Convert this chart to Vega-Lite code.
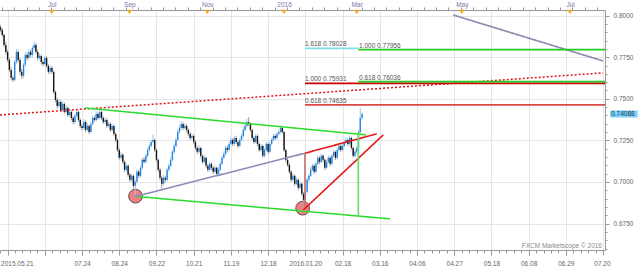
{
"$schema":"https://vega.github.io/schema/vega-lite/v6.json",
"width":605,"height":240,"autosize":"none",
"padding":{"left":0,"top":10,"right":35,"bottom":19},
"background":"white",
"view":{"stroke":null},
"config":{"axis":{"labelFont":"Liberation Sans","labelFontSize":6.5,"domainColor":"#999999","tickColor":"#999999","gridColor":"#e6e6e6","labelOverlap":false,"labelBound":false}},
"resolve":{"axis":{"x":"independent","y":"independent"}},
"datasets":{
"k":[
{"t":-4,"o":0.7930,"h":0.7945,"l":0.7900,"c":0.7914},
{"t":-3,"o":0.7914,"h":0.7925,"l":0.7870,"c":0.7884},
{"t":-2,"o":0.7884,"h":0.7892,"l":0.7810,"c":0.7824},
{"t":-1,"o":0.7824,"h":0.7840,"l":0.7765,"c":0.7782},
{"t":0,"o":0.7782,"h":0.7795,"l":0.7720,"c":0.7734},
{"t":1,"o":0.7734,"h":0.7745,"l":0.7660,"c":0.7674},
{"t":2,"o":0.7674,"h":0.7690,"l":0.7610,"c":0.7626},
{"t":3,"o":0.7626,"h":0.7640,"l":0.7600,"c":0.7614},
{"t":4,"o":0.7614,"h":0.7735,"l":0.7605,"c":0.7722},
{"t":5,"o":0.7722,"h":0.7800,"l":0.7710,"c":0.7782},
{"t":6,"o":0.7782,"h":0.7795,"l":0.7720,"c":0.7734},
{"t":7,"o":0.7734,"h":0.7748,"l":0.7645,"c":0.7662},
{"t":8,"o":0.7662,"h":0.7680,"l":0.7620,"c":0.7638},
{"t":9,"o":0.7638,"h":0.7718,"l":0.7625,"c":0.7704},
{"t":10,"o":0.7704,"h":0.7780,"l":0.7695,"c":0.7764},
{"t":11,"o":0.7764,"h":0.7778,"l":0.7730,"c":0.7746},
{"t":12,"o":0.7746,"h":0.7798,"l":0.7735,"c":0.7782},
{"t":13,"o":0.7782,"h":0.7795,"l":0.7750,"c":0.7764},
{"t":14,"o":0.7764,"h":0.7818,"l":0.7752,"c":0.7806},
{"t":15,"o":0.7806,"h":0.7845,"l":0.7795,"c":0.7824},
{"t":16,"o":0.7824,"h":0.7835,"l":0.7770,"c":0.7782},
{"t":17,"o":0.7782,"h":0.7795,"l":0.7730,"c":0.7746},
{"t":18,"o":0.7746,"h":0.7772,"l":0.7735,"c":0.7758},
{"t":19,"o":0.7758,"h":0.7768,"l":0.7705,"c":0.7722},
{"t":20,"o":0.7722,"h":0.7735,"l":0.7695,"c":0.7710},
{"t":21,"o":0.7710,"h":0.7760,"l":0.7700,"c":0.7746},
{"t":22,"o":0.7746,"h":0.7755,"l":0.7685,"c":0.7698},
{"t":23,"o":0.7698,"h":0.7710,"l":0.7648,"c":0.7662},
{"t":24,"o":0.7662,"h":0.7700,"l":0.7650,"c":0.7686},
{"t":25,"o":0.7686,"h":0.7698,"l":0.7650,"c":0.7662},
{"t":26,"o":0.7662,"h":0.7668,"l":0.7530,"c":0.7541},
{"t":27,"o":0.7541,"h":0.7550,"l":0.7478,"c":0.7493},
{"t":28,"o":0.7493,"h":0.7505,"l":0.7440,"c":0.7457},
{"t":29,"o":0.7457,"h":0.7498,"l":0.7448,"c":0.7481},
{"t":30,"o":0.7481,"h":0.7490,"l":0.7420,"c":0.7433},
{"t":31,"o":0.7433,"h":0.7485,"l":0.7425,"c":0.7469},
{"t":32,"o":0.7469,"h":0.7478,"l":0.7410,"c":0.7421},
{"t":33,"o":0.7421,"h":0.7460,"l":0.7412,"c":0.7445},
{"t":34,"o":0.7445,"h":0.7455,"l":0.7390,"c":0.7403},
{"t":35,"o":0.7403,"h":0.7440,"l":0.7395,"c":0.7421},
{"t":36,"o":0.7421,"h":0.7430,"l":0.7370,"c":0.7385},
{"t":37,"o":0.7385,"h":0.7395,"l":0.7345,"c":0.7361},
{"t":38,"o":0.7361,"h":0.7412,"l":0.7350,"c":0.7397},
{"t":39,"o":0.7397,"h":0.7438,"l":0.7388,"c":0.7421},
{"t":40,"o":0.7421,"h":0.7430,"l":0.7360,"c":0.7373},
{"t":41,"o":0.7373,"h":0.7382,"l":0.7322,"c":0.7337},
{"t":42,"o":0.7337,"h":0.7350,"l":0.7310,"c":0.7325},
{"t":43,"o":0.7325,"h":0.7378,"l":0.7315,"c":0.7361},
{"t":44,"o":0.7361,"h":0.7370,"l":0.7300,"c":0.7313},
{"t":45,"o":0.7313,"h":0.7352,"l":0.7305,"c":0.7337},
{"t":46,"o":0.7337,"h":0.7345,"l":0.7288,"c":0.7301},
{"t":47,"o":0.7301,"h":0.7362,"l":0.7295,"c":0.7349},
{"t":48,"o":0.7349,"h":0.7400,"l":0.7340,"c":0.7385},
{"t":49,"o":0.7385,"h":0.7395,"l":0.7360,"c":0.7373},
{"t":50,"o":0.7373,"h":0.7425,"l":0.7365,"c":0.7409},
{"t":51,"o":0.7409,"h":0.7420,"l":0.7372,"c":0.7385},
{"t":52,"o":0.7385,"h":0.7440,"l":0.7378,"c":0.7421},
{"t":53,"o":0.7421,"h":0.7430,"l":0.7372,"c":0.7385},
{"t":54,"o":0.7385,"h":0.7395,"l":0.7348,"c":0.7361},
{"t":55,"o":0.7361,"h":0.7388,"l":0.7350,"c":0.7373},
{"t":56,"o":0.7373,"h":0.7382,"l":0.7325,"c":0.7337},
{"t":57,"o":0.7337,"h":0.7362,"l":0.7328,"c":0.7349},
{"t":58,"o":0.7349,"h":0.7358,"l":0.7300,"c":0.7313},
{"t":59,"o":0.7313,"h":0.7350,"l":0.7305,"c":0.7337},
{"t":60,"o":0.7337,"h":0.7345,"l":0.7275,"c":0.7289},
{"t":61,"o":0.7289,"h":0.7298,"l":0.7240,"c":0.7253},
{"t":62,"o":0.7253,"h":0.7260,"l":0.7180,"c":0.7193},
{"t":63,"o":0.7193,"h":0.7205,"l":0.7130,"c":0.7145},
{"t":64,"o":0.7145,"h":0.7180,"l":0.7135,"c":0.7163},
{"t":65,"o":0.7163,"h":0.7172,"l":0.7108,"c":0.7121},
{"t":66,"o":0.7121,"h":0.7130,"l":0.7060,"c":0.7073},
{"t":67,"o":0.7073,"h":0.7112,"l":0.7062,"c":0.7097},
{"t":68,"o":0.7097,"h":0.7105,"l":0.7030,"c":0.7043},
{"t":69,"o":0.7043,"h":0.7055,"l":0.7000,"c":0.7013},
{"t":70,"o":0.7013,"h":0.7050,"l":0.7002,"c":0.7037},
{"t":71,"o":0.7037,"h":0.7045,"l":0.6960,"c":0.6977},
{"t":72,"o":0.6977,"h":0.7015,"l":0.6916,"c":0.7001},
{"t":73,"o":0.7001,"h":0.7075,"l":0.6990,"c":0.7061},
{"t":74,"o":0.7061,"h":0.7072,"l":0.7025,"c":0.7037},
{"t":75,"o":0.7037,"h":0.7098,"l":0.7028,"c":0.7085},
{"t":76,"o":0.7085,"h":0.7145,"l":0.7075,"c":0.7133},
{"t":77,"o":0.7133,"h":0.7148,"l":0.7110,"c":0.7121},
{"t":78,"o":0.7121,"h":0.7170,"l":0.7112,"c":0.7157},
{"t":79,"o":0.7157,"h":0.7208,"l":0.7148,"c":0.7193},
{"t":80,"o":0.7193,"h":0.7230,"l":0.7185,"c":0.7217},
{"t":81,"o":0.7217,"h":0.7255,"l":0.7208,"c":0.7241},
{"t":82,"o":0.7241,"h":0.7285,"l":0.7232,"c":0.7253},
{"t":83,"o":0.7253,"h":0.7262,"l":0.7180,"c":0.7193},
{"t":84,"o":0.7193,"h":0.7200,"l":0.7120,"c":0.7133},
{"t":85,"o":0.7133,"h":0.7140,"l":0.7060,"c":0.7073},
{"t":86,"o":0.7073,"h":0.7085,"l":0.7010,"c":0.7025},
{"t":87,"o":0.7025,"h":0.7035,"l":0.6960,"c":0.6989},
{"t":88,"o":0.6989,"h":0.7040,"l":0.6978,"c":0.7025},
{"t":89,"o":0.7025,"h":0.7038,"l":0.6998,"c":0.7013},
{"t":90,"o":0.7013,"h":0.7085,"l":0.7005,"c":0.7073},
{"t":91,"o":0.7073,"h":0.7112,"l":0.7062,"c":0.7097},
{"t":92,"o":0.7097,"h":0.7148,"l":0.7088,"c":0.7133},
{"t":93,"o":0.7133,"h":0.7195,"l":0.7125,"c":0.7181},
{"t":94,"o":0.7181,"h":0.7230,"l":0.7170,"c":0.7217},
{"t":95,"o":0.7217,"h":0.7268,"l":0.7208,"c":0.7253},
{"t":96,"o":0.7253,"h":0.7315,"l":0.7245,"c":0.7301},
{"t":97,"o":0.7301,"h":0.7342,"l":0.7290,"c":0.7325},
{"t":98,"o":0.7325,"h":0.7365,"l":0.7315,"c":0.7349},
{"t":99,"o":0.7349,"h":0.7360,"l":0.7312,"c":0.7325},
{"t":100,"o":0.7325,"h":0.7352,"l":0.7315,"c":0.7337},
{"t":101,"o":0.7337,"h":0.7348,"l":0.7300,"c":0.7313},
{"t":102,"o":0.7313,"h":0.7322,"l":0.7275,"c":0.7289},
{"t":103,"o":0.7289,"h":0.7300,"l":0.7252,"c":0.7265},
{"t":104,"o":0.7265,"h":0.7292,"l":0.7255,"c":0.7277},
{"t":105,"o":0.7277,"h":0.7285,"l":0.7228,"c":0.7241},
{"t":106,"o":0.7241,"h":0.7250,"l":0.7192,"c":0.7205},
{"t":107,"o":0.7205,"h":0.7215,"l":0.7168,"c":0.7181},
{"t":108,"o":0.7181,"h":0.7220,"l":0.7172,"c":0.7205},
{"t":109,"o":0.7205,"h":0.7212,"l":0.7145,"c":0.7157},
{"t":110,"o":0.7157,"h":0.7165,"l":0.7108,"c":0.7121},
{"t":111,"o":0.7121,"h":0.7160,"l":0.7112,"c":0.7145},
{"t":112,"o":0.7145,"h":0.7152,"l":0.7085,"c":0.7097},
{"t":113,"o":0.7097,"h":0.7105,"l":0.7060,"c":0.7073},
{"t":114,"o":0.7073,"h":0.7122,"l":0.7065,"c":0.7109},
{"t":115,"o":0.7109,"h":0.7118,"l":0.7072,"c":0.7085},
{"t":116,"o":0.7085,"h":0.7095,"l":0.7048,"c":0.7061},
{"t":117,"o":0.7061,"h":0.7098,"l":0.7052,"c":0.7085},
{"t":118,"o":0.7085,"h":0.7092,"l":0.7035,"c":0.7049},
{"t":119,"o":0.7049,"h":0.7088,"l":0.7040,"c":0.7073},
{"t":120,"o":0.7073,"h":0.7122,"l":0.7065,"c":0.7109},
{"t":121,"o":0.7109,"h":0.7158,"l":0.7100,"c":0.7145},
{"t":122,"o":0.7145,"h":0.7185,"l":0.7138,"c":0.7169},
{"t":123,"o":0.7169,"h":0.7218,"l":0.7160,"c":0.7205},
{"t":124,"o":0.7205,"h":0.7220,"l":0.7180,"c":0.7193},
{"t":125,"o":0.7193,"h":0.7242,"l":0.7185,"c":0.7229},
{"t":126,"o":0.7229,"h":0.7268,"l":0.7220,"c":0.7253},
{"t":127,"o":0.7253,"h":0.7262,"l":0.7215,"c":0.7229},
{"t":128,"o":0.7229,"h":0.7280,"l":0.7220,"c":0.7265},
{"t":129,"o":0.7265,"h":0.7275,"l":0.7228,"c":0.7241},
{"t":130,"o":0.7241,"h":0.7250,"l":0.7205,"c":0.7217},
{"t":131,"o":0.7217,"h":0.7265,"l":0.7210,"c":0.7253},
{"t":132,"o":0.7253,"h":0.7290,"l":0.7245,"c":0.7277},
{"t":133,"o":0.7277,"h":0.7328,"l":0.7268,"c":0.7313},
{"t":134,"o":0.7313,"h":0.7352,"l":0.7305,"c":0.7337},
{"t":135,"o":0.7337,"h":0.7378,"l":0.7328,"c":0.7361},
{"t":136,"o":0.7361,"h":0.7391,"l":0.7338,"c":0.7349},
{"t":137,"o":0.7349,"h":0.7358,"l":0.7300,"c":0.7313},
{"t":138,"o":0.7313,"h":0.7320,"l":0.7252,"c":0.7265},
{"t":139,"o":0.7265,"h":0.7275,"l":0.7228,"c":0.7241},
{"t":140,"o":0.7241,"h":0.7290,"l":0.7232,"c":0.7277},
{"t":141,"o":0.7277,"h":0.7285,"l":0.7215,"c":0.7229},
{"t":142,"o":0.7229,"h":0.7238,"l":0.7180,"c":0.7193},
{"t":143,"o":0.7193,"h":0.7230,"l":0.7185,"c":0.7217},
{"t":144,"o":0.7217,"h":0.7225,"l":0.7145,"c":0.7157},
{"t":145,"o":0.7157,"h":0.7205,"l":0.7148,"c":0.7193},
{"t":146,"o":0.7193,"h":0.7242,"l":0.7185,"c":0.7229},
{"t":147,"o":0.7229,"h":0.7238,"l":0.7168,"c":0.7181},
{"t":148,"o":0.7181,"h":0.7242,"l":0.7172,"c":0.7229},
{"t":149,"o":0.7229,"h":0.7265,"l":0.7220,"c":0.7253},
{"t":150,"o":0.7253,"h":0.7290,"l":0.7245,"c":0.7277},
{"t":151,"o":0.7277,"h":0.7288,"l":0.7252,"c":0.7265},
{"t":152,"o":0.7265,"h":0.7302,"l":0.7255,"c":0.7289},
{"t":153,"o":0.7289,"h":0.7315,"l":0.7280,"c":0.7301},
{"t":154,"o":0.7301,"h":0.7340,"l":0.7292,"c":0.7325},
{"t":155,"o":0.7325,"h":0.7335,"l":0.7290,"c":0.7301},
{"t":156,"o":0.7301,"h":0.7308,"l":0.7180,"c":0.7193},
{"t":157,"o":0.7193,"h":0.7200,"l":0.7120,"c":0.7133},
{"t":158,"o":0.7133,"h":0.7142,"l":0.7090,"c":0.7103},
{"t":159,"o":0.7103,"h":0.7112,"l":0.7048,"c":0.7061},
{"t":160,"o":0.7061,"h":0.7070,"l":0.7000,"c":0.7013},
{"t":161,"o":0.7013,"h":0.7050,"l":0.7005,"c":0.7037},
{"t":162,"o":0.7037,"h":0.7045,"l":0.6975,"c":0.6989},
{"t":163,"o":0.6989,"h":0.7028,"l":0.6980,"c":0.7013},
{"t":164,"o":0.7013,"h":0.7020,"l":0.6950,"c":0.6965},
{"t":165,"o":0.6965,"h":0.7002,"l":0.6955,"c":0.6989},
{"t":166,"o":0.6989,"h":0.6995,"l":0.6915,"c":0.6929},
{"t":167,"o":0.6929,"h":0.6940,"l":0.6844,"c":0.6893},
{"t":168,"o":0.6893,"h":0.6955,"l":0.6880,"c":0.6941},
{"t":169,"o":0.6941,"h":0.7025,"l":0.6932,"c":0.7013},
{"t":170,"o":0.7013,"h":0.7050,"l":0.7002,"c":0.7037},
{"t":171,"o":0.7037,"h":0.7088,"l":0.7028,"c":0.7073},
{"t":172,"o":0.7073,"h":0.7110,"l":0.7065,"c":0.7097},
{"t":173,"o":0.7097,"h":0.7105,"l":0.7048,"c":0.7061},
{"t":174,"o":0.7061,"h":0.7122,"l":0.7052,"c":0.7109},
{"t":175,"o":0.7109,"h":0.7160,"l":0.7100,"c":0.7145},
{"t":176,"o":0.7145,"h":0.7155,"l":0.7108,"c":0.7121},
{"t":177,"o":0.7121,"h":0.7172,"l":0.7112,"c":0.7157},
{"t":178,"o":0.7157,"h":0.7165,"l":0.7120,"c":0.7133},
{"t":179,"o":0.7133,"h":0.7140,"l":0.7072,"c":0.7085},
{"t":180,"o":0.7085,"h":0.7135,"l":0.7078,"c":0.7121},
{"t":181,"o":0.7121,"h":0.7160,"l":0.7112,"c":0.7145},
{"t":182,"o":0.7145,"h":0.7152,"l":0.7095,"c":0.7109},
{"t":183,"o":0.7109,"h":0.7170,"l":0.7100,"c":0.7157},
{"t":184,"o":0.7157,"h":0.7195,"l":0.7148,"c":0.7181},
{"t":185,"o":0.7181,"h":0.7188,"l":0.7132,"c":0.7145},
{"t":186,"o":0.7145,"h":0.7205,"l":0.7138,"c":0.7193},
{"t":187,"o":0.7193,"h":0.7230,"l":0.7185,"c":0.7217},
{"t":188,"o":0.7217,"h":0.7225,"l":0.7180,"c":0.7193},
{"t":189,"o":0.7193,"h":0.7232,"l":0.7185,"c":0.7217},
{"t":190,"o":0.7217,"h":0.7255,"l":0.7208,"c":0.7241},
{"t":191,"o":0.7241,"h":0.7268,"l":0.7232,"c":0.7253},
{"t":192,"o":0.7253,"h":0.7262,"l":0.7215,"c":0.7229},
{"t":193,"o":0.7229,"h":0.7278,"l":0.7220,"c":0.7265},
{"t":194,"o":0.7265,"h":0.7272,"l":0.7192,"c":0.7205},
{"t":195,"o":0.7205,"h":0.7212,"l":0.7145,"c":0.7157},
{"t":196,"o":0.7157,"h":0.7195,"l":0.7148,"c":0.7181},
{"t":197,"o":0.7181,"h":0.7218,"l":0.7172,"c":0.7205},
{"t":198,"o":0.7205,"h":0.7313,"l":0.7195,"c":0.7301},
{"t":199,"o":0.7301,"h":0.7445,"l":0.7290,"c":0.7385},
{"t":200,"o":0.7385,"h":0.7420,"l":0.7375,"c":0.7409}
],
"lines":[
{"id":"dot","t":-4.29,"p":0.74032},{"id":"dot","t":336.0,"p":0.76557},
{"id":"upg","t":43.7,"p":0.74453},{"id":"upg","t":202.3,"p":0.72831},
{"id":"lowg","t":72.2,"p":0.69135},{"id":"lowg","t":215.8,"p":0.67783},
{"id":"purple","t":72.2,"p":0.69135},{"id":"purple","t":167.8,"p":0.71731},
{"id":"redup","t":167.8,"p":0.71731},{"id":"redup","t":208.3,"p":0.72891},
{"id":"redlow","t":166.9,"p":0.68323},{"id":"redlow","t":212.0,"p":0.72831},
{"id":"redv","t":167.8,"p":0.71731},{"id":"redv","t":167.81,"p":0.68522},
{"id":"greenv","t":197.9,"p":0.72951},{"id":"greenv","t":197.91,"p":0.67963},
{"id":"topgray","t":251.4,"p":0.80042},{"id":"topgray","t":336.0,"p":0.77278},
{"id":"fib1618","t":167.8,"p":0.78028},{"id":"fib1618","t":197.9,"p":0.78028},
{"id":"fibg1","t":197.9,"p":0.77956},{"id":"fibg1","t":337.1,"p":0.77956},
{"id":"fibr1","t":167.8,"p":0.75931},{"id":"fibr1","t":337.1,"p":0.75931},
{"id":"fibg618","t":197.9,"p":0.76036},{"id":"fibg618","t":337.1,"p":0.76036},
{"id":"fibr618","t":167.8,"p":0.74635},{"id":"fibr618","t":337.1,"p":0.74635}
]
},
"layer":[
{"data":{"values":[{"t":72.2,"p":0.69147},{"t":166.5,"p":0.68425}]},
 "mark":{"type":"point","filled":true,"fill":"#f08080","stroke":"#333333","strokeWidth":0.8,"size":190,"opacity":1},
 "encoding":{
  "x":{"field":"t","type":"quantitative","scale":{"domain":[-4.29,337.1],"nice":false,"zero":false},"axis":null},
  "y":{"field":"p","type":"quantitative","scale":{"domain":[0.6591,0.8034],"nice":false,"zero":false},
   "axis":{"orient":"right","title":null,
    "values":[0.66,0.665,0.67,0.675,0.68,0.685,0.69,0.695,0.7,0.705,0.71,0.715,0.72,0.725,0.73,0.735,0.74,0.745,0.75,0.755,0.76,0.765,0.77,0.775,0.78,0.785,0.79,0.795,0.8],
    "format":".4f",
    "labelExpr":"abs(datum.value/0.025-round(datum.value/0.025))<0.01 ? datum.label : ''",
    "grid":true,
    "gridOpacity":{"condition":{"test":"abs(datum.value/0.025-round(datum.value/0.025))<0.01","value":1},"value":0},
    "tickSize":{"condition":{"test":"abs(datum.value/0.025-round(datum.value/0.025))<0.01","value":4},"value":2},
    "labelPadding":4,"labelColor":"#666666"}}}},
{"data":{"name":"k"},
 "mark":{"type":"rule","strokeWidth":1},
 "encoding":{
  "x":{"field":"t","type":"quantitative","scale":{"domain":[-4.29,337.1],"nice":false,"zero":false},
   "axis":{"orient":"bottom","title":null,
    "values":[-4.2,0,4.2,8.4,12.6,16.8,21,25.2,29.4,33.6,37.8,42,46.2,50.4,54.6,58.8,63,67.2,71.4,75.6,79.8,84,88.2,92.4,96.6,100.8,105,109.2,113.4,117.6,121.8,126,130.2,134.4,138.6,142.8,147,151.2,155.4,159.6,163.8,168,172.2,176.4,180.6,184.8,189,193.2,197.4,201.6,205.8,210,214.2,218.4,222.6,226.8,231,235.2,239.4,243.6,247.8,252,256.2,260.4,264.6,268.8,273,277.2,281.4,285.6,289.8,294,298.2,302.4,306.6,310.8,315,319.2,323.4,327.6,331.8,336],
    "labelExpr":"abs(datum.value/21-round(datum.value/21))<0.01 ? ['2015.05.21','','07.24','08.24','09.22','10.21','11.19','12.18','2016.01.20','02.18','03.16','04.06','04.27','05.18','06.08','06.29','07.20'][round(datum.value/21)] : ''",
    "grid":true,
    "gridOpacity":{"condition":{"test":"abs(datum.value/21-round(datum.value/21))<0.01","value":1},"value":0},
    "tickSize":{"condition":{"test":"abs(datum.value/21-round(datum.value/21))<0.01","value":5},"value":3},
    "labelPadding":5,"labelColor":"#666666","labelFlush":10,"labelFlushOffset":7}},
  "y":{"field":"l","type":"quantitative","scale":{"domain":[0.6591,0.8034],"nice":false,"zero":false},"axis":null},
  "y2":{"field":"h"},
  "color":{"condition":{"test":"datum.c >= datum.o","value":"#9cc6ea"},"value":"#a0a0a0"}}},
{"data":{"name":"k"},
 "mark":{"type":"rule","strokeWidth":1.4},
 "encoding":{
  "x":{"field":"t","type":"quantitative","scale":{"domain":[-4.29,337.1],"nice":false,"zero":false},"axis":null},
  "y":{"field":"o","type":"quantitative","scale":{"domain":[0.6591,0.8034],"nice":false,"zero":false},"axis":null},
  "y2":{"field":"c"},
  "color":{"condition":{"test":"datum.c >= datum.o","value":"#1f86e8"},"value":"#151515"}}},
{"data":{"name":"lines"},
 "mark":{"type":"line"},
 "encoding":{
  "x":{"field":"t","type":"quantitative","scale":{"domain":[-4.29,337.1],"nice":false,"zero":false},"axis":null},
  "y":{"field":"p","type":"quantitative","scale":{"domain":[0.6591,0.8034],"nice":false,"zero":false},"axis":null},
  "detail":{"field":"id"},
  "color":{"field":"id","type":"nominal","legend":null,"scale":{
    "domain":["dot","upg","lowg","purple","redup","redlow","redv","greenv","topgray","fib1618","fibg1","fibr1","fibg618","fibr618"],
    "range":["#dd1515","#2edc2e","#2edc2e","#8c8cbc","#e21a1a","#e21a1a","#c87070","#66dd66","#8e8eb0","#80dde8","#22cc22","#cc0000","#22cc22","#e04848"]}},
  "strokeWidth":{"field":"id","type":"nominal","legend":null,"scale":{
    "domain":["dot","upg","lowg","purple","redup","redlow","redv","greenv","topgray","fib1618","fibg1","fibr1","fibg618","fibr618"],
    "range":[1.5,1.8,1.8,1.5,1.6,1.6,1,1,1.5,1,2,2,2,2]}},
  "strokeDash":{"field":"id","type":"nominal","legend":null,"scale":{
    "domain":["dot","upg","lowg","purple","redup","redlow","redv","greenv","topgray","fib1618","fibg1","fibr1","fibg618","fibr618"],
    "range":[[2,2],[1,0],[1,0],[1,0],[1,0],[1,0],[1,0],[1,0],[1,0],[1,0],[1,0],[1,0],[1,0],[1,0]]}}}},
{"data":{"values":[{"t":24.9,"p":0.80222},{"t":68.7,"p":0.80222},{"t":112.7,"p":0.80222},{"t":156,"p":0.80222},{"t":197,"p":0.80222},{"t":256.3,"p":0.80222},{"t":317.4,"p":0.80222}]},
 "mark":{"type":"point","shape":"triangle-down","filled":true,"fill":"#f5a623","size":28,"opacity":1},
 "encoding":{
  "x":{"field":"t","type":"quantitative","scale":{"domain":[-4.29,337.1],"nice":false,"zero":false},
   "axis":{"orient":"top","title":null,"grid":false,
    "values":[-3.3,3.7,10.7,17.7,24.7,31.7,38.7,45.7,52.7,59.7,66.7,73.7,80.7,87.7,94.7,101.7,108.7,115.7,122.7,129.7,136.7,143.7,150.7,157.7,164.7,171.7,178.7,185.7,192.7,199.7,206.7,213.7,220.7,227.7,234.7,241.7,248.7,255.7,262.7,269.7,276.7,283.7,290.7,297.7,304.7,311.7,318.7,325.7,332.7,24.9,68.7,112.7,156,197,256.3,317.4],
    "labelExpr":"indexof([24.9,68.7,112.7,156,197,256.3,317.4], datum.value) >= 0 ? ['Jul','Sep','Nov','2016','Mar','May','Jul'][indexof([24.9,68.7,112.7,156,197,256.3,317.4], datum.value)] : ''",
    "tickSize":{"condition":{"test":"indexof([24.9,68.7,112.7,156,197,256.3,317.4], datum.value) >= 0","value":0},"value":3},
    "labelPadding":3,"labelColor":"#7a72aa"}},
  "y":{"field":"p","type":"quantitative","scale":{"domain":[0.6591,0.8034],"nice":false,"zero":false},"axis":null}}},
{"data":{"values":[
  {"t":167.8,"p":0.78028,"label":"1.618 0.78028"},
  {"t":198.3,"p":0.77956,"label":"1.000 0.77956"},
  {"t":167.8,"p":0.75931,"label":"1.000 0.75931"},
  {"t":198.3,"p":0.76036,"label":"0.618 0.76036"},
  {"t":167.8,"p":0.74635,"label":"0.618 0.74635"}]},
 "mark":{"type":"text","align":"left","baseline":"bottom","dy":-1,"font":"Liberation Sans","fontSize":6.5,"color":"#555555"},
 "encoding":{
  "x":{"field":"t","type":"quantitative","scale":{"domain":[-4.29,337.1],"nice":false,"zero":false},"axis":null},
  "y":{"field":"p","type":"quantitative","scale":{"domain":[0.6591,0.8034],"nice":false,"zero":false},"axis":null},
  "text":{"field":"label"}}},
{"data":{"values":[{"t":335.4,"p":0.6597,"label":"FXCM Marketscope © 2016"}]},
 "mark":{"type":"text","align":"right","baseline":"bottom","font":"Liberation Sans","fontSize":6.5,"color":"#8a8a8a"},
 "encoding":{
  "x":{"field":"t","type":"quantitative","scale":{"domain":[-4.29,337.1],"nice":false,"zero":false},"axis":null},
  "y":{"field":"p","type":"quantitative","scale":{"domain":[0.6591,0.8034],"nice":false,"zero":false},"axis":null},
  "text":{"field":"label"}}},
{"data":{"values":[{"t":340,"t2":355.5,"p":0.74303,"p2":0.73876}]},
 "mark":{"type":"rect","color":"#7fd2fa"},
 "encoding":{
  "x":{"field":"t","type":"quantitative","scale":{"domain":[-4.29,337.1],"nice":false,"zero":false},"axis":null},
  "x2":{"field":"t2"},
  "y":{"field":"p","type":"quantitative","scale":{"domain":[0.6591,0.8034],"nice":false,"zero":false},"axis":null},
  "y2":{"field":"p2"}}},
{"data":{"values":[{"t":340.6,"p":0.74088,"label":"0.74088"}]},
 "mark":{"type":"text","align":"left","baseline":"middle","font":"Liberation Sans","fontSize":6.5,"color":"#1a3550"},
 "encoding":{
  "x":{"field":"t","type":"quantitative","scale":{"domain":[-4.29,337.1],"nice":false,"zero":false},"axis":null},
  "y":{"field":"p","type":"quantitative","scale":{"domain":[0.6591,0.8034],"nice":false,"zero":false},"axis":null},
  "text":{"field":"label"}}}
]
}
